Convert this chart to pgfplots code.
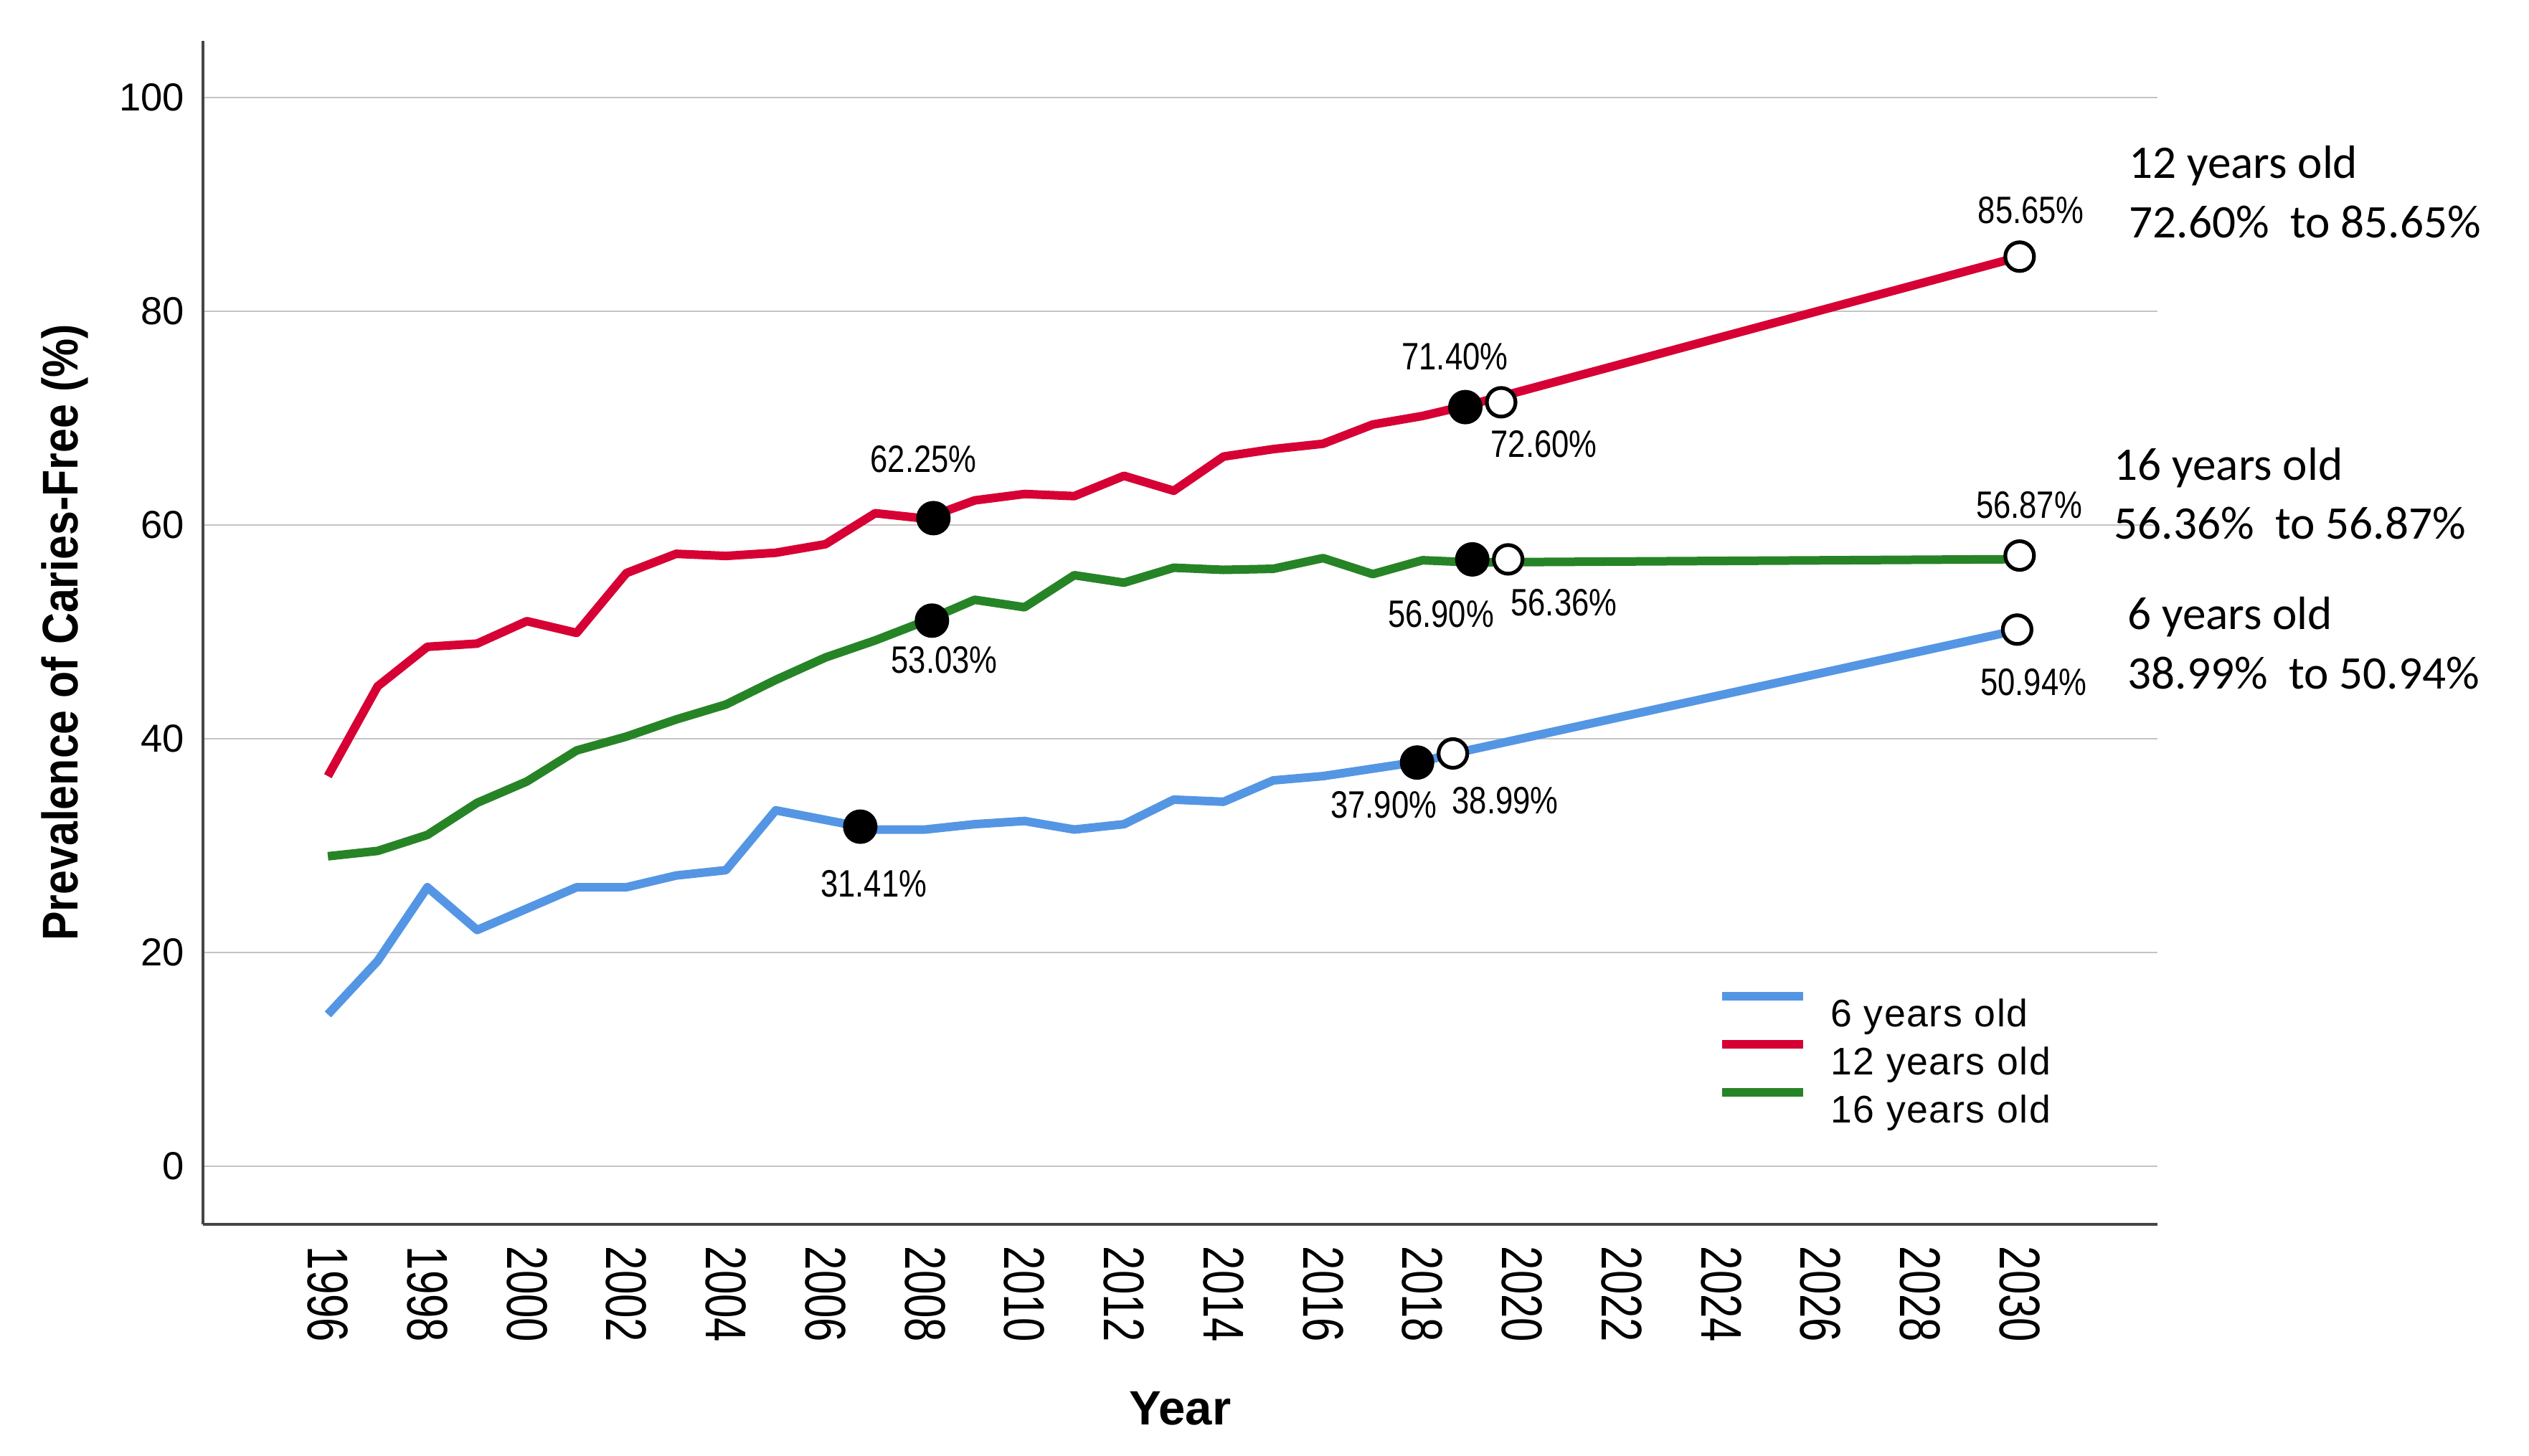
\documentclass[border=0pt]{standalone}
\usepackage{fontspec}
\setmainfont{Liberation Sans}
\newfontfamily\narrowfont[FakeStretch=0.82]{Liberation Sans}
\newfontfamily\xtickfont[FakeStretch=0.75]{Liberation Sans}
\newfontfamily\ylabfont[FakeStretch=0.87]{Liberation Sans}
\newfontfamily\legfont[LetterSpace=3]{Liberation Sans}
\newfontfamily\calfont{Carlito}
\usepackage{pgfplots}
\usepackage{pgfplotstable}
\pgfplotsset{compat=1.18}

\definecolor{six}{RGB}{84,150,228}
\definecolor{twelve}{RGB}{214,0,52}
\definecolor{sixteen}{RGB}{38,132,38}
\definecolor{gridgray}{RGB}{196,196,196}
\definecolor{axisgray}{RGB}{70,70,70}

% prevalence of caries-free children, by age group
\pgfplotstableread{
year six twelve sixteen
1996 14.2 36.5 29.0
1997 19.2 44.9 29.5
1998 26.1 48.6 31.0
1999 22.1 48.9 34.0
2000 24.1 51.0 36.0
2001 26.1 49.9 38.9
2002 26.1 55.5 40.2
2003 27.2 57.3 41.8
2004 27.7 57.1 43.2
2005 33.3 57.4 45.5
2006 32.4 58.2 47.6
2007 31.5 61.1 49.2
2008 31.5 60.6 51.0
2009 32.0 62.3 53.0
2010 32.3 62.9 52.3
2011 31.5 62.7 55.3
2012 32.0 64.6 54.6
2013 34.3 63.2 56.0
2014 34.1 66.4 55.8
2015 36.1 67.1 55.9
2016 36.5 67.6 56.9
2017 37.2 69.4 55.4
2018 37.9 70.2 56.7
2019 39.0 71.3 56.5
2030 50.2 85.1 56.8
}\caries

% highlighted points
\pgfplotstableread{
x y
2006.70 31.77
2017.89 37.77
2008.17 60.64
2018.86 71.03
2008.14 51.05
2019.00 56.78
}\filled

\pgfplotstableread{
x y
2018.61 38.62
2029.95 50.21
2019.58 71.48
2030.00 85.11
2019.72 56.78
2030.00 57.14
}\hollow

\begin{document}
\begin{tikzpicture}
\path[use as bounding box] (-70.75pt,-80.75pt) rectangle (810.75pt,426.75pt);
\begin{axis}[
  at={(0pt,0pt)}, anchor=south west,
  scale only axis, width=681.25pt, height=412.5pt,
  xmin=1993.49, xmax=2032.77, ymin=-5.44, ymax=105.3,
  axis lines*=left,
  axis line style={axisgray, line width=1pt},
  major tick length=0pt,
  xtick={1996,1998,...,2030},
  ytick={0,20,...,100},
  ymajorgrids,
  grid style={gridgray, line width=0.7pt},
  /pgf/number format/assume math mode=true,
  /pgf/number format/1000 sep={},
  x tick label style={rotate=-90, anchor=west, inner sep=0pt,
    font=\xtickfont\fontsize{20}{20}\selectfont},
  xticklabel shift=7.5pt,
  y tick label style={inner sep=0pt, font=\fontsize{13.6}{14}\selectfont},
  yticklabel shift=6.25pt,
  xlabel={Year},
  ylabel={Prevalence of Caries-Free (\%)},
  xlabel style={font=\bfseries\fontsize{16.8}{18}\selectfont,
    at={(axis description cs:0.5,-0.1558)}, anchor=center},
  ylabel style={font=\ylabfont\bfseries\fontsize{17.5}{18}\selectfont,
    at={(axis description cs:-0.0708,0.5)}, anchor=center},
  clip=false,
  legend style={draw=none, fill=none, inner sep=0pt, outer sep=0pt,
    at={(axis cs:2023.94,16.3)}, anchor=north west,
    row sep=3.1pt,
    font=\legfont\fontsize{13.4}{14}\selectfont,
    nodes={inner sep=0pt},
    /tikz/every odd column/.append style={column sep=8pt}},
  legend cell align=left,
  legend image code/.code={\draw[#1, line width=3pt] (0pt,6.5pt) -- (28.25pt,6.5pt);},
]
\addplot[six, line width=3pt, line join=round] table[x=year, y=six] {\caries};
\addplot[twelve, line width=3pt, line join=round] table[x=year, y=twelve] {\caries};
\addplot[sixteen, line width=3pt, line join=round] table[x=year, y=sixteen] {\caries};
\legend{6 years old, 12 years old, 16 years old}

\addplot[forget plot, only marks, mark=*, mark size=5.8pt,
  mark options={fill=black, draw=black}] table {\filled};
\addplot[forget plot, only marks, mark=*, mark size=5pt,
  mark options={fill=white, draw=black, line width=1.3pt}] table {\hollow};

% point labels
\begin{scope}[every node/.style={inner sep=0pt, font=\narrowfont\fontsize{13.3}{14}\selectfont}]
\node at (axis cs:2018.65,75.77) {71.40\%};
\node at (axis cs:2020.44,67.60) {72.60\%};
\node at (axis cs:2007.97,66.15) {62.25\%};
\node at (axis cs:2008.39,47.37) {53.03\%};
\node at (axis cs:2018.37,51.65) {56.90\%};
\node at (axis cs:2020.84,52.72) {56.36\%};
\node at (axis cs:2017.22,33.82) {37.90\%};
\node at (axis cs:2019.66,34.18) {38.99\%};
\node at (axis cs:2006.97,26.40) {31.41\%};
\node at (axis cs:2030.23,89.46) {85.65\%};
\node at (axis cs:2030.19,61.88) {56.87\%};
\node at (axis cs:2030.28,45.30) {50.94\%};
\end{scope}

% side notes
\begin{scope}[every node/.style={inner sep=0pt, anchor=base west, font=\calfont\fontsize{16.3}{20}\selectfont}]
\node at (axis cs:2032.19,92.42) {12 years old};
\node at (axis cs:2032.19,86.85) {72.60\%\ \ to 85.65\%};
\node at (axis cs:2031.89,64.19) {16 years old};
\node at (axis cs:2031.89,58.68) {56.36\%\ \ to 56.87\%};
\node at (axis cs:2032.16,50.20) {6 years old};
\node at (axis cs:2032.16,44.66) {38.99\%\ \ to 50.94\%};
\end{scope}
\end{axis}
\end{tikzpicture}
\end{document}
